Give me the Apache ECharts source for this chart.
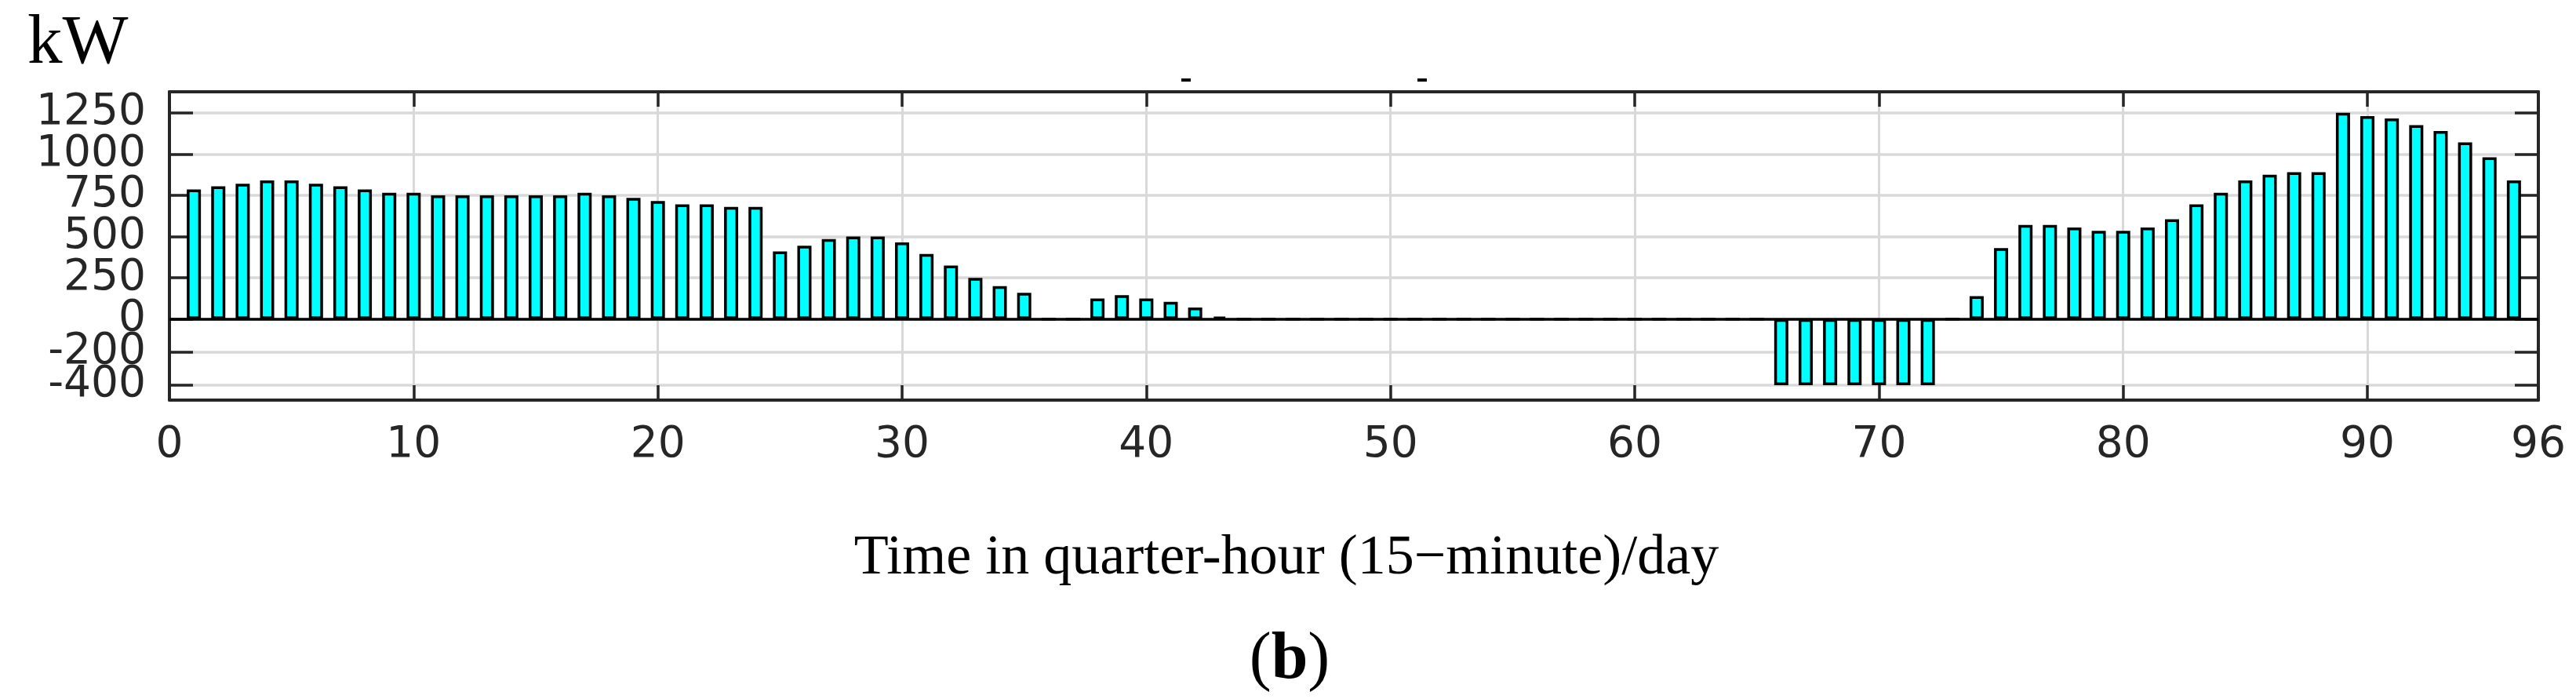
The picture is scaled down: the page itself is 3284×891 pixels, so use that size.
<!DOCTYPE html>
<html>
<head>
<meta charset="utf-8">
<script src="https://cdn.jsdelivr.net/npm/echarts@6/dist/echarts.min.js"></script>
<style>html,body{margin:0;padding:0;background:#fff}#c{width:3284px;height:891px}</style>
</head>
<body>
<div id="c"></div>
<script>
const categories = [1,2,3,4,5,6,7,8,9,10,11,12,13,14,15,16,17,18,19,20,21,22,23,24,25,26,27,28,29,30,31,32,33,34,35,36,37,38,39,40,41,42,43,44,45,46,47,48,49,50,51,52,53,54,55,56,57,58,59,60,61,62,63,64,65,66,67,68,69,70,71,72,73,74,75,76,77,78,79,80,81,82,83,84,85,86,87,88,89,90,91,92,93,94,95,96];
const powerKW = [785,805,820,840,840,820,805,785,765,765,750,750,750,750,750,750,765,750,735,715,695,695,680,680,410,445,485,500,500,465,395,325,250,200,160,0,0,125,145,125,105,70,15,0,0,0,0,0,0,0,0,0,0,0,0,0,0,0,0,0,0,0,0,0,0,-400,-400,-400,-400,-400,-400,-400,0,140,430,570,570,555,535,535,555,605,695,765,840,875,890,890,1250,1230,1215,1175,1140,1070,980,840];
const xTickValues = [10,20,30,40,50,60,70,80,90];
const xLabelValues = [0,10,20,30,40,50,60,70,80,90,97];
const xLabelTexts = ['0','10','20','30','40','50','60','70','80','90','96'];
const yTickValues = [-400,-200,0,250,500,750,1000,1250];
const yLabelsA = [-400,0,500,1000];
const yLabelsB = [-200,250,750,1250];

const axisColor = '#262626';
const gridColor = '#d9d9d9';
const labelFont = 'DejaVu Sans';
const yMin = -490, yMax = 1377;

const chart = echarts.init(document.getElementById('c'), null, {renderer:'canvas'});
const xBase = {
  type:'value', min:0, max:97,
  axisLine:{show:true, onZero:false, lineStyle:{color:axisColor, width:4}},
  axisTick:{show:true, inside:true, length:19, customValues:xTickValues, lineStyle:{color:axisColor, width:3.5}}
};
const yBase = {
  type:'value', min:yMin, max:yMax,
  axisLine:{show:true, onZero:false, lineStyle:{color:axisColor, width:4}},
  axisTick:{show:true, inside:true, length:30, customValues:yTickValues, lineStyle:{color:axisColor, width:3.5}}
};
function labelAxis(vals){
  return {type:'value', min:yMin, max:yMax, position:'left', offset:0,
    axisLine:{show:false}, axisTick:{show:false}, splitLine:{show:false},
    axisLabel:{show:true, customValues:vals, margin:30, fontSize:55, fontFamily:labelFont, color:axisColor,
      showMinLabel:true, showMaxLabel:true, hideOverlap:false, formatter:v => String(v)}};
}
const option = {
  animation:false,
  backgroundColor:'#ffffff',
  grid:{left:216, right:48, top:117, bottom:381},
  xAxis:[
    Object.assign({}, xBase, {position:'bottom',
      axisLabel:{show:true, customValues:xLabelValues, margin:30, fontSize:55, fontFamily:labelFont, color:axisColor,
        showMinLabel:true, showMaxLabel:true, hideOverlap:false,
        formatter:v => xLabelTexts[xLabelValues.indexOf(v)]},
      splitLine:{show:true, lineStyle:{color:gridColor, width:3}}}),
    Object.assign({}, xBase, {position:'top', axisLabel:{show:false}, splitLine:{show:false}})
  ],
  yAxis:[
    Object.assign({}, yBase, {position:'left', axisLabel:{show:false},
      splitLine:{show:true, lineStyle:{color:gridColor, width:3.5}}}),
    Object.assign({}, yBase, {position:'right', axisLabel:{show:false}, splitLine:{show:false}}),
    labelAxis(yLabelsA),
    labelAxis(yLabelsB)
  ],
  series:[{
    type:'bar', xAxisIndex:0, yAxisIndex:0,
    data: categories.map((c,i)=>[c, powerKW[i]]),
    barWidth:18,
    itemStyle:{color:'#00FFFF', borderColor:'#000000', borderWidth:3.5},
    markLine:{silent:true, symbol:'none', label:{show:false},
      lineStyle:{color:'#000000', width:3.5, type:'solid'},
      data:[{yAxis:0}]}
  }],
  graphic:[
    {type:'text', left:35, top:12, style:{text:'kW', font:'89px "Liberation Serif"', fill:'#000'}},
    {type:'text', x:1640, y:676, style:{text:'Time in quarter-hour (15\u2212minute)/day', font:'72px "Liberation Serif"', fill:'#000', align:'center', verticalAlign:'top'}},
    {type:'text', x:1644, y:800, style:{text:'{p|(}{b|b}{p|)}', align:'center', verticalAlign:'top',
      rich:{p:{font:'84px "Liberation Serif"', fill:'#000'}, b:{font:'bold 84px "Liberation Serif"', fill:'#000'}}}},
    {type:'rect', shape:{x:1506, y:100, width:12, height:4}, style:{fill:'#000'}},
    {type:'rect', shape:{x:1807, y:100, width:12, height:4}, style:{fill:'#000'}}
  ]
};
chart.setOption(option);
</script>
</body>
</html>
